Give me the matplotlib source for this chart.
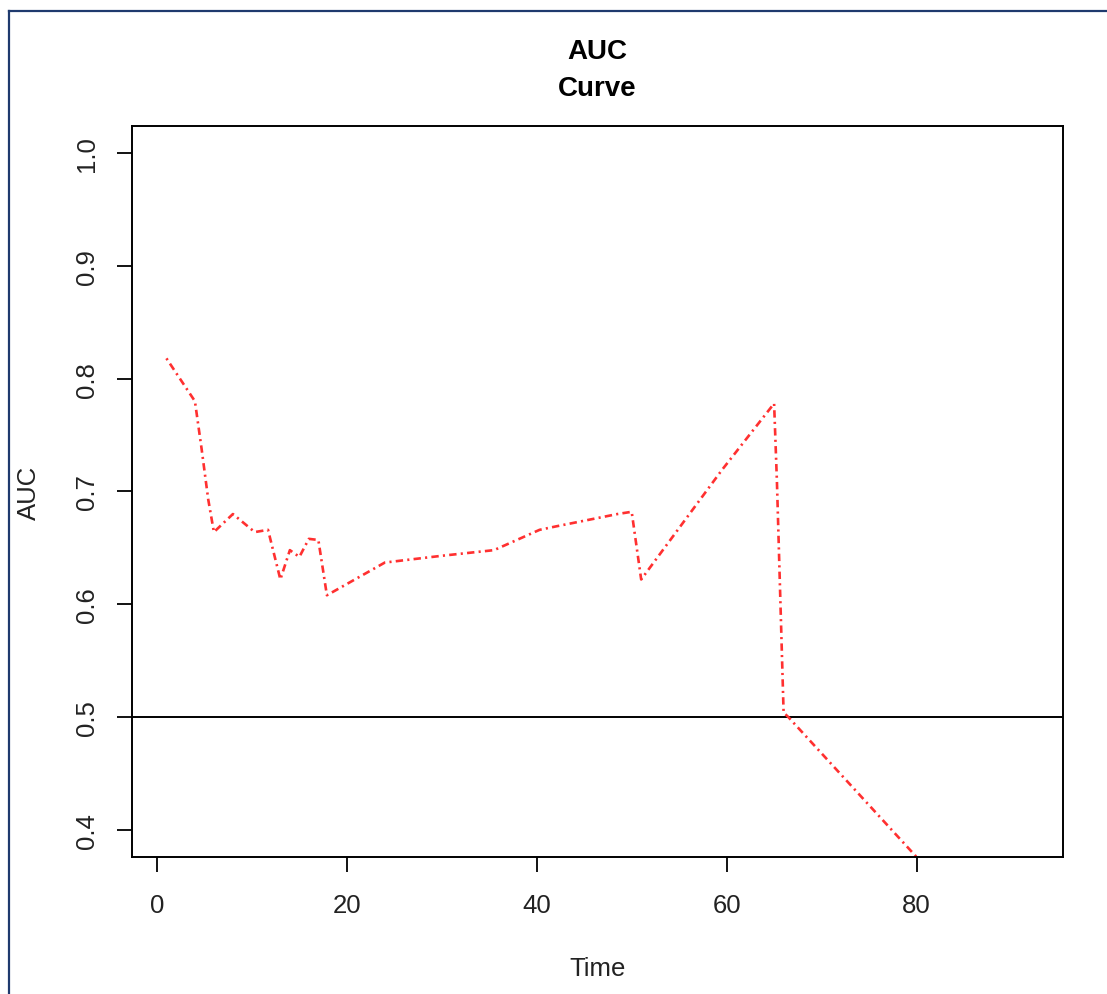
import numpy as np
import matplotlib
matplotlib.use("Agg")
import matplotlib.pyplot as plt
from matplotlib.lines import Line2D

plt.rcParams['font.family'] = ['Liberation Sans', 'DejaVu Sans']

# AUC over time
time = [1, 4, 4.7, 5.4, 6, 8, 10.3, 11.7, 13, 14, 15, 16, 17, 17.9,
        24, 30, 35.5, 40.3, 42, 48.5, 50, 51, 59.5, 65, 65.3, 66, 66.5, 80]
auc = [0.818, 0.780, 0.738, 0.693, 0.664, 0.680, 0.664, 0.666, 0.622, 0.648,
       0.642, 0.658, 0.657, 0.608, 0.637, 0.643, 0.648, 0.666, 0.669, 0.680,
       0.682, 0.622, 0.719, 0.778, 0.708, 0.504, 0.500, 0.376]

xticks = [0, 20, 40, 60, 80]
yticks = [0.4, 0.5, 0.6, 0.7, 0.8, 0.9, 1.0]

fig = plt.figure(figsize=(11.07, 9.95), dpi=100)
ax = fig.add_axes([0.1192, 0.1377, 0.8411, 0.7347])

# abline at 0.5
ax.axhline(0.5, color='black', linewidth=1.4)

line, = ax.plot(time, auc, color='#ff3030', linewidth=1.9)
line.set_dashes((0.8, 1.6, 2.8, 1.6))

# R style limits: 4% padding
xmin, xmax = 1, 91.8
ymin, ymax = 0.4, 1.0
dx = (xmax - xmin) * 0.04
dy = (ymax - ymin) * 0.04
ax.set_xlim(xmin - dx, xmax + dx)
ax.set_ylim(ymin - dy, ymax + dy)

ax.set_xticks(xticks)
ax.set_xticklabels([str(t) for t in xticks])
ax.set_yticks(yticks)
ax.set_yticklabels(["%.1f" % t for t in yticks], rotation=90, va='center')
ax.tick_params(axis='x', length=10.5, width=1.3, pad=15.5,
               labelsize=18.5, colors='black', labelcolor='#222222')
ax.tick_params(axis='y', length=10.5, width=1.3, pad=13.5,
               labelsize=18.5, colors='black', labelcolor='#222222')

for s in ax.spines.values():
    s.set_linewidth(1.4)

ax.set_xlabel("Time", fontsize=18.5, labelpad=28, color='#222222')
ax.set_ylabel("AUC", fontsize=18.5, labelpad=24, color='#222222')
ax.set_title("AUC\nCurve", fontsize=20, fontweight='bold', pad=22,
             linespacing=1.55)

# outer frame (cut off at right and bottom)
fig.add_artist(Line2D([0.0081, 0.0081], [0.0, 0.988], transform=fig.transFigure,
                      color='#1f3a6e', linewidth=1.6))
fig.add_artist(Line2D([0.0081, 1.0], [0.988, 0.988], transform=fig.transFigure,
                      color='#1f3a6e', linewidth=1.6))

fig.savefig("out.png", dpi=100)
